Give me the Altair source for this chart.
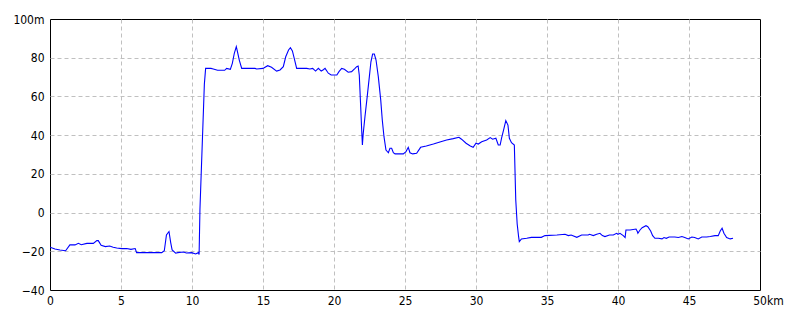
import altair as alt
import pandas as pd

km = [0.0, 0.35, 0.7, 1.1, 1.4, 1.76, 2.0, 2.2, 2.6, 3.05, 3.3, 3.4, 3.6, 3.9, 4.2, 4.45, 4.7, 5.05, 5.4, 5.7, 6.0, 6.1,
      7.87, 8.05, 8.2, 8.38, 8.5, 8.6, 8.85, 9.0, 9.4, 9.6, 9.97, 10.26, 10.45, 10.5, 10.52, 10.56, 10.87, 10.96,
      11.34, 11.5, 11.8, 12.3, 12.44, 12.7, 12.84, 12.98, 13.12, 13.2, 13.33, 13.5, 14.44, 14.55, 15.0, 15.33, 15.6,
      15.96, 16.2, 16.43, 16.6, 16.8, 16.93, 17.07, 17.2, 17.37, 17.72, 18.08, 18.3, 18.5, 18.7, 18.9, 19.1, 19.25,
      19.37, 19.6, 19.8, 20.2, 20.35, 20.54, 20.73, 21.0, 21.24, 21.48, 21.6, 21.7, 21.78, 21.88, 21.95, 22.0, 22.06,
      22.18, 22.35, 22.49, 22.6, 22.72, 22.84, 22.96, 23.12, 23.29, 23.4, 23.52, 23.66, 23.83, 23.94, 24.06, 24.18,
      24.3, 24.88, 25.07, 25.23, 25.35, 25.54, 25.82, 26.1, 26.5, 27.0, 27.46, 27.93, 28.4, 28.8, 28.98, 29.3, 29.6,
      29.8, 30.0, 30.16, 30.4, 30.75, 31.0, 31.17, 31.4, 31.57, 31.7, 31.8, 31.97, 32.1, 32.25, 32.35, 32.5, 32.7,
      32.8, 32.9, 33.0, 33.05, 33.2, 33.57, 33.9, 34.6, 34.86, 35.7, 36.27, 36.5, 36.7, 37.1, 37.44, 37.9, 38.0,
      38.26, 38.5, 38.73, 38.9, 39.08, 39.4, 39.67, 39.9, 40.0, 40.14, 40.37, 40.5, 40.56, 40.85, 41.27, 41.36, 41.4,
      41.55, 41.7, 41.97, 42.1, 42.3, 42.44, 42.6, 42.84, 43.1, 43.24, 43.4, 43.6, 44.0, 44.25, 44.5, 44.7, 44.95,
      45.2, 45.4, 45.65, 45.9, 46.24, 46.5, 46.83, 47.06, 47.2, 47.33, 47.46, 47.65, 47.9, 48.1]
elev = [-17.9, -18.8, -19.3, -19.7, -16.7, -16.7, -15.9, -16.6, -15.9, -15.9, -14.5, -14.5, -16.9, -17.6, -17.3,
        -17.9, -18.3, -18.6, -18.6, -19.0, -18.6, -20.7, -20.7, -19.7, -11.6, -9.8, -15.5, -19.3, -21.0, -20.7,
        -20.4, -20.9, -20.7, -21.4, -20.7, -21.7, -14.0, 1.7, 66.3, 74.5, 74.5, 74.2, 73.5, 73.5, 74.5, 74.0, 77.1,
        82.3, 85.7, 83.1, 78.8, 74.5, 74.5, 74.2, 74.5, 75.9, 75.1, 73.1, 73.7, 75.4, 80.5, 84.0, 85.2, 83.5, 79.7,
        74.5, 74.5, 74.5, 74.2, 74.5, 73.1, 74.5, 73.1, 73.8, 74.5, 72.0, 71.1, 71.1, 72.8, 74.5, 74.0, 72.5, 72.8,
        74.5, 75.4, 75.7, 71.1, 54.7, 42.7, 34.9, 41.0, 49.5, 60.7, 70.2, 77.9, 81.9, 81.9, 78.8, 70.2, 58.2, 47.8,
        39.2, 32.3, 30.9, 33.2, 33.2, 30.9, 30.3, 30.3, 31.5, 33.7, 30.9, 30.3, 30.6, 33.7, 34.4, 35.4, 36.5, 37.5,
        38.2, 38.9, 37.9, 35.8, 34.4, 33.7, 35.8, 35.4, 36.6, 37.5, 38.7, 37.9, 38.4, 34.9, 34.9, 38.4, 43.5, 47.5,
        45.2, 38.4, 36.1, 34.9, 6.5, -5.9, -12.4, -15.0, -13.6, -13.3, -12.8, -12.8, -11.9, -11.6, -11.2, -11.9,
        -11.6, -12.8, -11.6, -11.6, -11.2, -11.9, -11.2, -10.7, -11.9, -12.4, -11.6, -11.6, -10.7, -11.2, -10.7,
        -11.9, -12.9, -9.0, -9.0, -8.5, -9.8, -10.7, -9.0, -7.8, -6.8, -7.3, -9.5, -11.9, -13.3, -13.3, -13.6, -12.9,
        -13.3, -12.6, -12.6, -12.9, -12.4, -12.9, -13.6, -12.6, -12.9, -13.6, -12.6, -12.6, -12.4, -11.9, -11.9,
        -9.5, -8.1, -10.7, -12.9, -13.6, -13.3]

x_ticks = [0, 5, 10, 15, 20, 25, 30, 35, 40, 45, 50]
y_ticks = [-40, -20, 0, 20, 40, 60, 80, 100]

df = pd.DataFrame({"km": km, "elev": elev})

FONT = "DejaVu Sans Condensed"
GRID = dict(grid=True, gridColor="#c0c0c0", gridDash=[4, 3], gridWidth=1,
            ticks=False, domain=False, title=None,
            labelFont=FONT, labelFontSize=12, labelColor="#000000",
            labelFlush=False, labelOverlap=False)

chart = alt.Chart(df).mark_line(color="#0000ff", strokeWidth=1.1, clip=True).encode(
    x=alt.X("km:Q",
            scale=alt.Scale(domain=[0, 50], nice=False, zero=False),
            axis=alt.Axis(values=x_ticks,
                          labelExpr="datum.value == 50 ? '50km' : datum.label",
                          labelOffset={"condition": {"test": "datum.value == 50", "value": 8}, "value": 0},
                          gridOpacity={"condition": {"test": "datum.value == 0 || datum.value == 50", "value": 0},
                                       "value": 1},
                          labelPadding=5, **GRID)),
    y=alt.Y("elev:Q",
            scale=alt.Scale(domain=[-40, 100], nice=False, zero=False),
            axis=alt.Axis(values=y_ticks,
                          labelExpr="datum.value == 100 ? '100m' : datum.label",
                          gridOpacity={"condition": {"test": "datum.value == -40 || datum.value == 100", "value": 0},
                                       "value": 1},
                          labelPadding=6, **GRID)),
).properties(
    width=710, height=271,
    background="#ffffff",
    autosize=alt.AutoSizeParams(type="none"),
    padding={"left": 50, "top": 19, "right": 40, "bottom": 30},
).configure_view(
    stroke="#000000", strokeWidth=1
)

chart.save("out.html", embed_options={"renderer": "svg", "actions": False})
